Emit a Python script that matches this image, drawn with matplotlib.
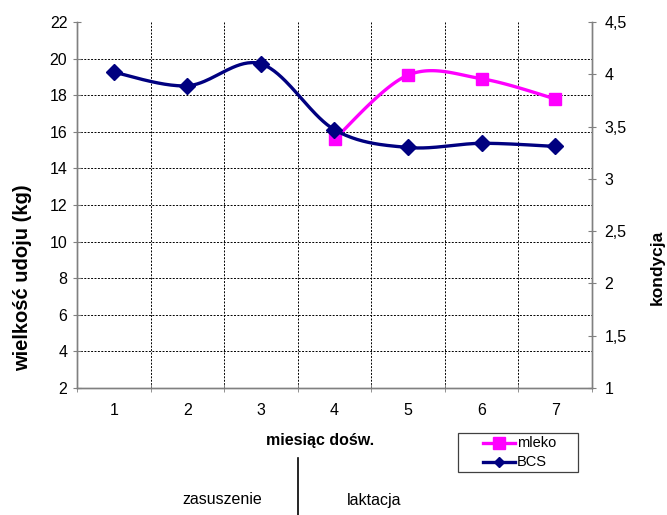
#!/usr/bin/env python3
import matplotlib
matplotlib.use("Agg")
import matplotlib.pyplot as plt
import numpy as np
from matplotlib.lines import Line2D
from matplotlib.patches import Rectangle
from matplotlib.ticker import FuncFormatter

plt.rcParams["font.family"] = ["Liberation Sans", "DejaVu Sans"]

months = [1, 2, 3, 4, 5, 6, 7]
mleko = [np.nan, np.nan, np.nan, 15.6, 19.1, 18.9, 17.8]
bcs = [4.02, 3.89, 4.10, 3.47, 3.30, 3.34, 3.31]
series_names = ["mleko", "BCS"]

MAGENTA = "#ff00ff"
NAVY = "#000080"
GRAY = "#808080"
W, H = 667, 515


def smooth(x, y, n=40):
    # Catmull-Rom style bezier, similar to Excel's smoothed line
    pts = np.column_stack([np.asarray(x, float), np.asarray(y, float)])
    out = []
    for i in range(len(pts) - 1):
        p0 = pts[max(i - 1, 0)]
        p1 = pts[i]
        p2 = pts[i + 1]
        p3 = pts[min(i + 2, len(pts) - 1)]
        c1 = p1 + (p2 - p0) / 6.0
        c2 = p2 - (p3 - p1) / 6.0
        t = np.linspace(0, 1, n)[:, None]
        seg = ((1 - t) ** 3) * p1 + 3 * ((1 - t) ** 2) * t * c1 + 3 * (1 - t) * t ** 2 * c2 + t ** 3 * p2
        out.append(seg if i == 0 else seg[1:])
    seg = np.vstack(out)
    return seg[:, 0], seg[:, 1]


def fx(px):
    return px / W


def fy(py):
    return 1 - py / H


fig = plt.figure(figsize=(W / 100, H / 100), dpi=100)
ax = fig.add_axes([fx(77), fy(388), (592 - 77) / W, (388 - 22) / H])
ax2 = ax.twinx()

ax.set_xlim(0.5, 7.5)
ax.set_ylim(2, 22)
ax2.set_ylim(1, 4.5)

ax.set_yticks(np.arange(2, 23, 2))
ax2.set_yticks(np.arange(1, 4.51, 0.5))
ax2.yaxis.set_major_formatter(FuncFormatter(lambda v, p: f"{v:g}".replace(".", ",")))
ax.set_xticks(months)
ax.set_xticks(np.arange(0.5, 7.6, 1), minor=True)

for a in (ax, ax2):
    for s in a.spines.values():
        s.set_color(GRAY)
        s.set_linewidth(1)
    a.spines["top"].set_visible(False)
ax.tick_params(axis="x", which="major", length=0, labelsize=11.5, pad=11)
ax.tick_params(axis="x", which="minor", length=6, direction="inout", color=GRAY)
ax.tick_params(axis="y", length=6, direction="inout", color=GRAY, labelsize=11.5, pad=4)
ax2.tick_params(axis="y", length=6, direction="inout", color=GRAY, labelsize=11.5, pad=6)

for v in np.arange(4, 21, 2):
    ax.axhline(v, color="black", lw=0.7, ls=(0, (2, 1.5)), zorder=0)
for v in np.arange(1.5, 7, 1):
    ax.axvline(v, color="black", lw=0.7, ls=(0, (2, 1.5)), zorder=0)

mm = np.array(mleko)
ok = ~np.isnan(mm)
sx, sy = smooth(np.array(months)[ok], mm[ok])
ax.plot(sx, sy, color=MAGENTA, lw=2.4, zorder=3)
ax.plot(np.array(months)[ok], mm[ok], ls="none", marker="s", ms=9, color=MAGENTA, zorder=4)

bx, by = smooth(months, bcs)
ax2.plot(bx, by, color=NAVY, lw=2.4, zorder=3)
ax2.plot(months, bcs, ls="none", marker="D", ms=8, color=NAVY, zorder=4)

fig.text(fx(23), fy(278), "wielkość udoju (kg)", rotation=90, ha="center", va="center",
         fontsize=14.5, fontweight="bold")
fig.text(fx(657), fy(267), "kondycja", rotation=90, ha="center", va="center",
         fontsize=12.5, fontweight="bold")
fig.text(fx(320), fy(440), "miesiąc dośw.", ha="center", va="center",
         fontsize=11.5, fontweight="bold")
fig.text(fx(222), fy(500), "zasuszenie", ha="center", va="center", fontsize=11.5)
fig.text(fx(374), fy(500), "laktacja", ha="center", va="center", fontsize=11.5)
fig.add_artist(Line2D([fx(298), fx(298)], [fy(458), 0], color="black", lw=1.2,
                      transform=fig.transFigure))

# legend box drawn by hand, like the Excel one
fig.add_artist(Rectangle((fx(458), fy(472)), (578 - 458) / W, (472 - 433) / H,
                         transform=fig.transFigure, facecolor="white",
                         edgecolor="#404040", lw=0.9))
leg_style = [(MAGENTA, "s", 8), (NAVY, "D", 5.5)]
for (color, marker, ms), name, ypx in zip(leg_style, series_names, [443, 462]):
    fig.add_artist(Line2D([fx(483), fx(515)], [fy(ypx), fy(ypx)], color=color, lw=2.4,
                          transform=fig.transFigure))
    fig.add_artist(Line2D([fx(499)], [fy(ypx)], color=color, marker=marker, ms=ms,
                          transform=fig.transFigure))
    fig.text(fx(517), fy(ypx), name, ha="left", va="center", fontsize=10.5)

fig.savefig("out.png", dpi=100)
